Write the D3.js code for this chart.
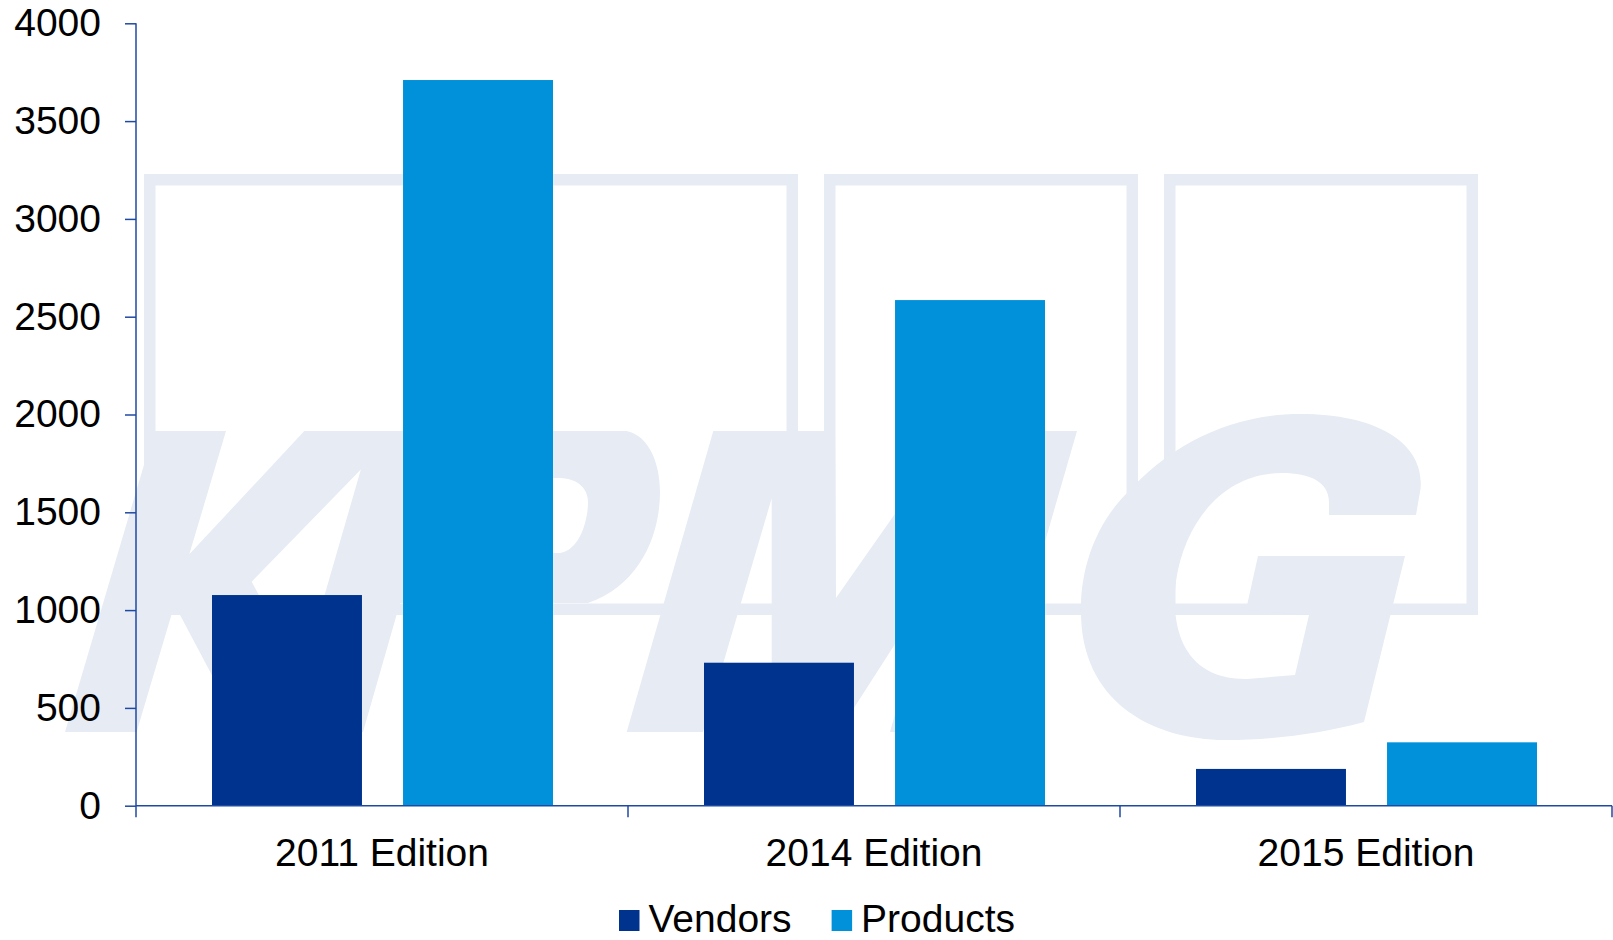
<!DOCTYPE html>
<html>
<head>
<meta charset="utf-8">
<script src="https://cdn.jsdelivr.net/npm/d3@7"></script>
<style>
body { margin: 0; background: #fff; }
svg { display: block; font-family: "Liberation Sans", Arial, sans-serif; }
</style>
</head>
<body>
<div class="svg-container"></div>
<script>
// chart values
var categories = ["2011 Edition", "2014 Edition", "2015 Edition"];
var seriesNames = ["Vendors", "Products"];
var vendors = [1077, 731, 188];
var products = [3710, 2585, 324];
var yTicks = [0, 500, 1000, 1500, 2000, 2500, 3000, 3500, 4000];
var seriesColors = ["#00338d", "#0091da"];

var width = 1613,
    height = 940;

var margin = {
    top: 23.3,
    right: 1,
    bottom: 134.3,
    left: 136
}

var chartWidth = width - margin.left - margin.right;
var chartHeight = height - margin.top - margin.bottom;

var axisColor = "#1f4aa3";
var markColor = "#e6ebf4";

var svg = d3.select(".svg-container")
    .append("svg")
    .attr("width", width)
    .attr("height", height)
    .attr("viewBox", `0 0 ${width} ${height}`);

// KPMG watermark behind the chart (boxes + letters, page pixels)
var wm = svg.append("g").attr("class", "watermark");

var boxLefts = [144, 484, 824, 1164];
var boxW = 314, boxTop = 174, boxH = 441, boxStroke = 11.5;

wm.selectAll("rect")
    .data(boxLefts)
    .enter().append("rect")
    .attr("x", d => d + boxStroke / 2)
    .attr("y", boxTop + boxStroke / 2)
    .attr("width", boxW - boxStroke)
    .attr("height", boxH - boxStroke)
    .attr("fill", "none")
    .attr("stroke", markColor)
    .attr("stroke-width", boxStroke);

var letterPaths = [
    // K
    "M154,431 L226,431 L189.3,554.3 L304.3,431 L398.3,431 L251.7,581.7 L331,732 L242,732 L174.5,604.6 L136.6,732 L65,732 Z",
    // P
    "M372,431 L626.7,431 C650,436 660,465 660,492 C660,535 640,585 588,603 L400,603 L363,732 L285,732 Z " +
    "M436,478 L560,478 C580,479 588,490 588,502 C588,520 580,550 560,553 L415,553 Z",
    // M
    "M713.3,431 L835,431 L836,598 L953,431 L1077,431 L990,732 L890,732 L931,588 L838.5,732 L771.7,732 L771.7,498.3 L703,732 L626.7,732 Z",
    // G
    "M1300,414 C1380,414 1425,445 1420.5,489 L1416,515 L1329,515 L1329,502 " +
    "C1329,482 1310,473 1282,473 C1225,473 1185,520 1176,581 C1170,630 1185,680 1247,679 L1295,675 " +
    "L1309,615 L1246,610 L1258,556 L1405,556 L1364,722 " +
    "C1320,734 1270,740 1226,740 C1150,740 1081,700 1081,612 " +
    "C1080,570 1095,525 1127,493 C1170,445 1230,414 1300,414 Z"
];

wm.selectAll("path")
    .data(letterPaths)
    .enter().append("path")
    .attr("d", d => d)
    .attr("fill", markColor)
    .attr("fill-rule", "evenodd");

var g = svg.append("g")
    .attr("transform", `translate(${margin.left}, ${margin.top})`);

var x0 = d3.scaleBand()
    .domain(categories)
    .range([0, chartWidth]);

var x1 = d3.scaleBand()
    .domain(seriesNames)
    .range([76, 417])
    .paddingInner(0.215);

var y = d3.scaleLinear()
    .domain([0, 4000])
    .range([chartHeight, 0]);

var color = d3.scaleOrdinal()
    .domain(seriesNames)
    .range(seriesColors);

var table = categories.map((c, i) => ({
    category: c,
    values: [
        { key: "Vendors", value: vendors[i] },
        { key: "Products", value: products[i] }
    ]
}));

var groups = g.selectAll(".group")
    .data(table)
    .enter().append("g")
    .attr("class", "group")
    .attr("transform", d => `translate(${x0(d.category)}, 0)`);

groups.selectAll("rect")
    .data(d => d.values)
    .enter().append("rect")
    .attr("x", d => x1(d.key))
    .attr("width", x1.bandwidth())
    .attr("y", d => y(d.value))
    .attr("height", d => chartHeight - y(d.value))
    .attr("fill", d => color(d.key));

// y axis
var yAxis = d3.axisLeft(y)
    .tickValues(yTicks)
    .tickSize(11)
    .tickPadding(24)
    .tickFormat(d3.format("d"));

var yAxisG = g.append("g").attr("class", "axis-y").call(yAxis);
yAxisG.select(".domain").remove();
yAxisG.selectAll(".tick line").attr("stroke", axisColor).attr("stroke-width", 1.5);
yAxisG.selectAll(".tick text")
    .attr("fill", "#000")
    .style("font-size", "39px")
    .style("font-family", "'Liberation Sans', Arial, sans-serif");

// x axis
var xAxis = d3.axisBottom(x0)
    .tickSize(0)
    .tickPadding(33);

var xAxisG = g.append("g")
    .attr("class", "axis-x")
    .attr("transform", `translate(0, ${chartHeight})`)
    .call(xAxis);
xAxisG.select(".domain").remove();
xAxisG.selectAll(".tick text")
    .attr("fill", "#000")
    .style("font-size", "39px")
    .style("font-family", "'Liberation Sans', Arial, sans-serif");

g.append("line")
    .attr("x1", 0).attr("x2", chartWidth)
    .attr("y1", chartHeight).attr("y2", chartHeight)
    .attr("stroke", axisColor).attr("stroke-width", 1.5);

g.append("line")
    .attr("x1", 0).attr("x2", 0)
    .attr("y1", 0).attr("y2", chartHeight + 11.5)
    .attr("stroke", axisColor).attr("stroke-width", 1.5);

var bounds = categories.map(c => x0(c)).concat([chartWidth]).slice(1);
g.selectAll(".cat-tick")
    .data(bounds)
    .enter().append("line")
    .attr("class", "cat-tick")
    .attr("x1", d => d).attr("x2", d => d)
    .attr("y1", chartHeight).attr("y2", chartHeight + 11.5)
    .attr("stroke", axisColor).attr("stroke-width", 1.5);

// legend
var legend = svg.append("g").attr("class", "legend");
var lx = 619;
seriesNames.forEach(function(name) {
    legend.append("rect")
        .attr("x", lx).attr("y", 910)
        .attr("width", 20.5).attr("height", 21)
        .attr("fill", color(name));
    var t = legend.append("text")
        .attr("x", lx + 29.5).attr("y", 931.5)
        .style("font-size", "39px")
        .attr("fill", "#000")
        .text(name);
    lx = lx + 29.5 + t.node().getComputedTextLength() + 40;
});
</script>
</body>
</html>
